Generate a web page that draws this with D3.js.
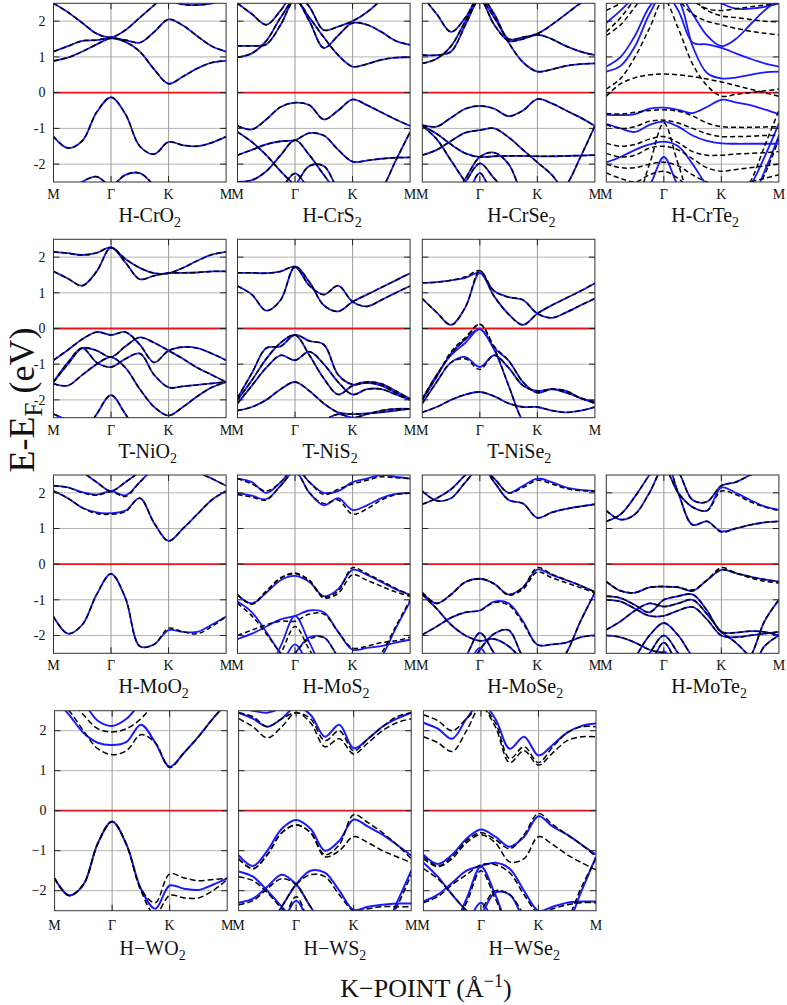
<!DOCTYPE html>
<html><head><meta charset="utf-8">
<script src="https://cdn.jsdelivr.net/npm/d3@7"></script>
<style>body{margin:0;background:#fff}svg{display:block}</style>
</head><body><div id="chart"></div>
<script>
// ---------- data ----------
const kGrid = d3.range(13);            // k-path samples: M(0) .. Γ(4) .. K(8) .. M(12)
const kTickPos = [0, 4, 8, 12];
const kTickLab = ["M", "Γ", "K", "M"];
const eTicks = [-2, -1, 0, 1, 2];
const eTickLab = ["-2", "-1", "0", "1", "2"];
const eTickLabW = ["\u22122", "\u22121", "0", "1", "2"];

const cro2 = [
 [-1.23,-1.55,-1.35,-0.55,-0.13,-0.6,-1.5,-1.72,-1.38,-1.47,-1.5,-1.4,-1.23],
 [0.89,0.98,1.15,1.35,1.52,1.42,1.15,0.65,0.25,0.45,0.68,0.84,0.89],
 [1.15,1.3,1.45,1.47,1.53,1.47,1.4,1.7,2.05,1.88,1.58,1.3,1.15],
 [2.5,2.25,1.95,1.65,1.55,1.75,2.1,2.45,2.8,3,3,3,3],
 [3,3,3,3,3,3,3,2.8,2.6,2.47,2.45,2.5,2.6],
 [-3,-2.9,-2.5,-2.35,-2.6,-2.3,-2.25,-2.6,-3,-3,-3,-3,-3]
];
const crs2 = [
 [-0.93,-1.03,-0.75,-0.4,-0.28,-0.35,-0.75,-0.5,-0.19,-0.35,-0.55,-0.75,-0.93],
 [-1.75,-1.6,-1.45,-1.36,-1.33,-1.13,-1.2,-1.6,-1.93,-1.9,-1.85,-1.82,-1.81],
 [-1.1,-1.38,-1.75,-2.2,-2.6,-3,-3,-3,-3,-3,-2.7,-1.9,-1.1],
 [-2.5,-2.45,-2.2,-1.75,-1.33,-1.75,-2.3,-2.8,-3,-3,-3,-3,-3],
 [-3,-3,-3,-2.7,-2.26,-2.7,-3,-3,-3,-3,-3,-3,-3],
 [-3,-3,-3,-3,-2.6,-2.05,-2.05,-2.7,-3,-3,-3,-3,-3],
 [0.99,1.1,1.45,2.1,2.6,2.1,1.55,1.05,0.73,0.8,0.92,0.98,0.99],
 [1.31,1.31,1.35,1.9,2.6,2.0,1.25,1.6,1.95,1.9,1.7,1.45,1.34],
 [2.5,2.2,1.9,2.3,2.8,2.4,1.75,1.85,2.0,2.25,2.6,3,3]
];
const crse2 = [
 [-0.91,-0.95,-0.7,-0.45,-0.37,-0.45,-0.66,-0.5,-0.18,-0.3,-0.5,-0.7,-0.93],
 [-1.75,-1.6,-1.35,-1.12,-1.05,-1.0,-1.25,-1.6,-1.95,-2.3,-2.8,-3,-3],
 [-0.93,-1.15,-1.45,-1.7,-1.8,-1.78,-1.77,-1.77,-1.78,-1.78,-1.77,-1.76,-1.75],
 [-0.93,-1.3,-1.9,-2.5,-3,-3,-3,-3,-3,-3,-2.6,-1.8,-0.93],
 [-3,-3,-3,-2.5,-1.98,-2.4,-2.8,-3,-3,-3,-3,-3,-3],
 [-3,-3,-3,-2.4,-1.8,-1.68,-2.0,-2.8,-3,-3,-3,-3,-3],
 [-3,-3,-3,-2.9,-2.25,-2.9,-3,-3,-3,-3,-3,-3,-3],
 [0.82,0.95,1.3,2.0,2.6,2.1,1.4,0.85,0.59,0.65,0.75,0.8,0.82],
 [1.05,1.05,1.15,1.9,2.6,1.9,1.45,1.5,1.62,1.5,1.3,1.15,1.05],
 [2.7,2.2,1.7,2.1,2.7,2.2,1.5,1.55,1.65,1.9,2.2,2.5,2.7]
];
const crte2 = [
 [0.59,0.75,1.3,2.2,2.8,2.6,1.3,0.55,0.4,0.42,0.5,0.57,0.59],
 [0.73,1.0,1.6,2.4,2.8,2.3,1.4,1.35,1.25,1.1,0.95,0.82,0.73],
 [3,3,3,3,3,2.8,2.2,1.6,1.3,1.5,1.9,2.3,2.6],
 [3,3,3,3,3,3,3,2.7,2.5,2.35,2.35,2.4,2.5],
 [1.95,2.3,2.7,3,3,3,3,3,3,3,3,3,3],
 [-0.62,-0.63,-0.6,-0.45,-0.42,-0.48,-0.57,-0.4,-0.2,-0.27,-0.35,-0.47,-0.6],
 [-0.87,-1.0,-1.1,-0.9,-0.81,-0.95,-1.2,-1.35,-1.42,-1.43,-1.43,-1.43,-1.43],
 [-1.95,-1.8,-1.6,-1.45,-1.37,-1.5,-2.0,-2.6,-3,-3,-3,-3,-3],
 [-3,-3,-3,-2.6,-1.8,-2.6,-3,-3,-3,-3,-3,-3,-3],
 [-3,-3,-3,-3,-3,-3,-3,-3,-3,-3,-2.6,-1.8,-0.86],
 [-3,-3,-3,-3,-3,-3,-3,-3,-3,-3,-3,-2.2,-1.2]
];
const crte2Dn = [
 [-0.1,0.25,0.42,0.5,0.52,0.5,0.45,0.38,0.3,0.2,0.1,0.0,-0.1],
 [0.1,0.4,1.0,1.8,2.6,1.8,0.8,0.2,-0.1,-0.05,0.0,0.05,0.1],
 [1.7,2.1,2.6,2.9,3,2.9,2.6,2.3,2.15,2.1,2.05,2.0,1.98],
 [1.6,1.9,2.4,2.9,3,2.6,2.2,2.0,1.9,1.8,1.72,1.66,1.62],
 [2.3,2.5,2.8,3,3,3,2.6,2.35,2.3,2.35,2.4,2.45,2.5],
 [-0.58,-0.6,-0.55,-0.5,-0.48,-0.52,-0.65,-0.85,-0.95,-0.97,-0.97,-0.96,-0.95],
 [-0.9,-1.0,-0.95,-0.8,-0.77,-0.85,-1.0,-1.15,-1.23,-1.23,-1.22,-1.2,-1.2],
 [-1.42,-1.5,-1.45,-1.3,-1.23,-1.4,-1.65,-1.75,-1.75,-1.72,-1.7,-1.68,-1.65],
 [-1.7,-1.8,-1.75,-1.55,-1.5,-1.6,-1.85,-2.1,-2.2,-2.15,-2.1,-2.05,-2.0],
 [-2.0,-2.1,-2.1,-2.0,-1.95,-2.05,-2.3,-2.5,-2.6,-2.6,-2.5,-2.4,-2.3],
 [-2.25,-2.4,-2.5,-2.3,-2.2,-2.4,-2.8,-3,-3,-3,-3,-3,-3],
 [-3,-3,-3,-2.0,-0.85,-2.0,-3,-3,-3,-3,-3,-3,-3],
 [-3,-3,-3,-3,-3,-3,-3,-3,-3,-3,-2.5,-1.5,-0.5],
 [-3,-3,-3,-3,-3,-3,-3,-3,-3,-3,-3,-2.3,-1.3]
];
const nio2 = [
 [2.15,2.11,2.06,2.12,2.27,1.95,1.7,1.55,1.55,1.7,1.9,2.07,2.15],
 [1.6,1.4,1.2,1.6,2.27,1.85,1.38,1.48,1.55,1.56,1.57,1.6,1.6],
 [-0.89,-0.6,-0.3,-0.1,-0.18,-0.1,-0.45,-0.95,-0.62,-0.52,-0.55,-0.7,-0.89],
 [-1.5,-1.0,-0.55,-0.62,-0.8,-0.5,-0.25,-0.4,-0.62,-0.85,-1.1,-1.3,-1.5],
 [-1.5,-0.95,-0.55,-0.95,-1.08,-0.85,-0.7,-1.3,-1.65,-1.62,-1.58,-1.54,-1.5],
 [-1.55,-1.6,-1.3,-1.0,-0.8,-1.1,-1.7,-2.2,-2.44,-2.2,-1.9,-1.65,-1.5],
 [-3,-3,-3,-2.4,-1.87,-2.4,-3,-3,-3,-3,-3,-3,-3],
 [-2.4,-2.6,-3,-3,-3,-3,-3,-3,-3,-3,-3,-3,-2.6]
];
const nis2 = [
 [1.56,1.56,1.55,1.6,1.73,1.2,0.95,1.2,0.75,0.62,0.8,1.0,1.19],
 [1.19,0.95,0.5,0.8,1.73,1.3,0.65,0.48,0.75,0.95,1.15,1.35,1.55],
 [-1.95,-1.25,-0.55,-0.5,-0.18,-0.35,-0.45,-1.3,-1.57,-1.52,-1.6,-1.8,-1.97],
 [-2.1,-1.6,-1.1,-0.75,-0.89,-0.65,-1.0,-1.5,-1.85,-1.7,-1.7,-1.85,-2.0],
 [-2.0,-1.45,-0.85,-0.4,-0.18,-0.75,-1.4,-1.85,-1.6,-1.5,-1.55,-1.75,-1.97],
 [-2.3,-2.2,-2.0,-1.7,-1.5,-1.75,-2.1,-2.35,-2.4,-2.38,-2.35,-2.3,-2.25],
 [-3,-3,-3,-3,-3,-3,-2.6,-2.4,-2.5,-2.4,-2.3,-2.25,-2.25]
];
const nise2 = [
 [1.28,1.3,1.35,1.42,1.56,1.05,0.88,0.8,0.42,0.3,0.45,0.65,0.84],
 [0.84,0.45,0.1,0.6,1.56,0.9,0.4,0.1,0.42,0.65,0.85,1.05,1.27],
 [-1.97,-1.3,-0.75,-0.4,-0.02,-0.55,-0.9,-1.5,-1.8,-1.7,-1.8,-1.95,-2.1],
 [-2.1,-1.5,-0.95,-0.8,-1.08,-0.75,-1.1,-1.6,-1.75,-1.7,-1.75,-1.95,-2.05],
 [-2.0,-1.35,-0.7,-0.3,-0.02,-0.6,-1.6,-2.6,-3,-3,-3,-3,-3],
 [-2.35,-2.2,-2.0,-1.85,-1.78,-1.9,-2.1,-2.2,-2.2,-2.3,-2.35,-2.3,-2.2]
];
const nise2Dn = [
 [1.28,1.3,1.35,1.45,1.62,1.05,0.88,0.8,0.42,0.3,0.45,0.65,0.84],
 [0.84,0.45,0.1,0.6,1.62,0.9,0.4,0.1,0.42,0.65,0.85,1.05,1.27],
 [-1.97,-1.3,-0.72,-0.3,0.12,-0.5,-0.9,-1.5,-1.8,-1.7,-1.8,-1.95,-2.1],
 [-2.1,-1.5,-0.95,-0.85,-1.15,-0.75,-1.1,-1.6,-1.75,-1.7,-1.75,-1.95,-2.05],
 [-2.0,-1.35,-0.65,-0.25,0.12,-0.55,-1.6,-2.6,-3,-3,-3,-3,-3],
 [-2.35,-2.2,-2.0,-1.85,-1.78,-1.9,-2.1,-2.2,-2.2,-2.3,-2.35,-2.3,-2.2]
];
const moo2 = [
 [-1.47,-1.95,-1.7,-0.85,-0.27,-0.95,-2.3,-2.25,-1.85,-1.9,-1.9,-1.7,-1.47],
 [2.05,1.85,1.58,1.45,1.43,1.5,1.85,1.15,0.65,1.0,1.4,1.8,2.05],
 [2.2,2.15,2.02,1.95,2.05,1.93,2.3,2.7,3,3,2.6,2.4,2.2],
 [3,3,2.6,2.3,2.05,2.3,2.6,3,3,3,3,3,3]
];
const moo2Dn = [
 [-1.47,-1.95,-1.7,-0.85,-0.27,-0.95,-2.3,-2.25,-1.8,-1.9,-1.95,-1.75,-1.47],
 [2.05,1.85,1.58,1.42,1.4,1.47,1.85,1.15,0.65,1.0,1.4,1.8,2.05],
 [2.2,2.15,2.0,1.93,2.03,1.9,2.3,2.7,3,3,2.6,2.4,2.2],
 [3,3,2.6,2.3,2.05,2.3,2.6,3,3,3,3,3,3]
];
const mos2 = [
 [-0.86,-1.1,-0.8,-0.45,-0.33,-0.5,-0.9,-0.7,-0.16,-0.3,-0.5,-0.7,-0.86],
 [-1.05,-1.35,-1.9,-2.5,-2.9,-3,-3,-3,-3,-3,-2.6,-1.8,-1.05],
 [-2.1,-1.95,-1.75,-1.55,-1.45,-1.3,-1.35,-1.9,-2.4,-2.35,-2.3,-2.2,-2.12],
 [-3,-3,-3,-2.3,-1.45,-2.2,-2.9,-3,-3,-3,-3,-3,-3],
 [-3,-3,-3,-3,-2.5,-2.05,-2.05,-2.6,-3,-3,-3,-3,-3],
 [-3,-3,-3,-2.8,-2.25,-2.8,-3,-3,-3,-3,-3,-3,-3],
 [1.99,1.92,1.82,2.2,2.6,2.0,1.65,1.85,1.52,1.65,1.85,1.97,1.99],
 [2.4,2.3,2.0,2.3,2.7,2.3,2.0,2.05,2.3,2.4,2.5,2.45,2.4]
];
const mos2Dn = [
 [-0.86,-1.12,-0.75,-0.38,-0.25,-0.45,-0.92,-0.75,-0.1,-0.27,-0.47,-0.68,-0.86],
 [-0.86,-1.12,-0.78,-0.4,-0.27,-0.48,-0.95,-0.82,-0.3,-0.45,-0.62,-0.78,-0.9],
 [-1.1,-1.45,-1.95,-2.5,-2.9,-3,-3,-3,-3,-3,-2.5,-1.75,-1.0],
 [-2.0,-1.85,-1.7,-1.6,-1.6,-1.4,-1.4,-1.9,-2.35,-2.3,-2.2,-2.15,-2.05],
 [-3,-3,-3,-2.5,-1.75,-2.4,-3,-3,-3,-3,-3,-3,-3],
 [-3,-3,-3,-3,-2.5,-2.1,-2.05,-2.6,-3,-3,-3,-3,-3],
 [1.95,1.88,1.8,2.2,2.6,2.0,1.7,1.8,1.4,1.55,1.8,1.95,1.99],
 [2.4,2.25,2.05,2.3,2.7,2.3,1.95,2.1,2.25,2.35,2.45,2.42,2.4]
];
const mose2 = [
 [-0.8,-1.1,-0.85,-0.5,-0.41,-0.55,-0.85,-0.65,-0.15,-0.3,-0.45,-0.6,-0.78],
 [-0.85,-1.25,-1.7,-2.0,-2.15,-2.1,-2.3,-2.7,-3,-3,-3,-3,-3],
 [-1.98,-1.75,-1.5,-1.35,-1.3,-1.05,-1.1,-1.6,-2.26,-2.25,-2.2,-2.05,-2.0],
 [-3,-3,-3,-3,-3,-3,-3,-3,-3,-3,-2.5,-1.6,-0.8],
 [-3,-3,-3,-2.6,-1.93,-2.5,-3,-3,-3,-3,-3,-3,-3],
 [-3,-3,-3,-3,-2.4,-1.95,-1.85,-2.6,-3,-3,-3,-3,-3],
 [-3,-3,-3,-2.9,-2.35,-2.9,-3,-3,-3,-3,-3,-3,-3],
 [1.68,1.85,2.1,2.5,2.8,2.3,1.8,1.7,1.3,1.45,1.55,1.62,1.68],
 [2.05,1.78,1.85,2.3,2.7,2.4,2.0,2.2,2.4,2.3,2.15,2.08,2.05]
];
const mose2Dn = [
 [-0.8,-1.1,-0.85,-0.5,-0.41,-0.55,-0.85,-0.65,-0.1,-0.28,-0.44,-0.6,-0.78],
 [-0.8,-1.1,-0.85,-0.5,-0.41,-0.55,-0.87,-0.7,-0.22,-0.38,-0.52,-0.66,-0.8],
 [-0.85,-1.25,-1.7,-2.0,-2.15,-2.1,-2.3,-2.7,-3,-3,-3,-3,-3],
 [-1.98,-1.75,-1.5,-1.35,-1.3,-1.08,-1.15,-1.65,-2.26,-2.25,-2.2,-2.05,-2.0],
 [-3,-3,-3,-3,-3,-3,-3,-3,-3,-3,-2.5,-1.6,-0.8],
 [-3,-3,-3,-2.6,-1.93,-2.5,-3,-3,-3,-3,-3,-3,-3],
 [-3,-3,-3,-3,-2.4,-1.95,-1.85,-2.6,-3,-3,-3,-3,-3],
 [1.68,1.85,2.1,2.5,2.8,2.3,1.8,1.7,1.3,1.45,1.55,1.62,1.68],
 [2.05,1.78,1.85,2.3,2.7,2.4,2.0,2.15,2.35,2.25,2.12,2.06,2.05]
];
const mote2 = [
 [-0.49,-0.75,-0.8,-0.65,-0.63,-0.65,-0.75,-0.45,-0.16,-0.25,-0.35,-0.43,-0.49],
 [-0.9,-0.95,-1.15,-1.35,-1.0,-0.9,-0.85,-1.3,-1.9,-1.92,-1.88,-1.9,-2.0],
 [-1.84,-1.6,-1.3,-1.1,-1.19,-1.1,-1.0,-1.4,-1.9,-2.2,-2.6,-3,-3],
 [-3,-3,-2.6,-2.0,-1.65,-2.0,-2.6,-3,-3,-3,-3,-3,-3],
 [-3,-3,-3,-2.5,-2.0,-2.5,-3,-3,-3,-3,-3,-3,-3],
 [-3,-3,-3,-2.8,-2.2,-2.8,-3,-3,-3,-3,-3,-3,-3],
 [-3,-3,-3,-3,-3,-3,-3,-3,-3,-3,-2.6,-1.6,-1.0],
 [-2.0,-2.05,-2.2,-2.4,-2.5,-2.6,-3,-3,-3,-3,-3,-2.3,-2.0],
 [-1.0,-1.05,-1.25,-1.45,-1.45,-1.3,-1.2,-1.55,-2.0,-2.05,-2.0,-1.95,-1.9],
 [-3,-3,-3,-2.9,-2.45,-2.9,-3,-3,-3,-3,-3,-3,-3],
 [1.2,1.4,1.9,2.5,3,2.0,1.1,1.2,0.92,1.0,1.1,1.17,1.2],
 [1.5,1.25,1.4,2.0,2.7,2.0,1.6,1.5,2.15,2.0,1.8,1.62,1.52],
 [3,3,3,3,3,2.6,1.8,1.75,2.2,2.3,2.5,2.7,2.9]
];
const mote2Dn = [
 [-0.49,-0.75,-0.8,-0.65,-0.63,-0.65,-0.72,-0.45,-0.1,-0.25,-0.38,-0.48,-0.53],
 [-0.49,-0.75,-0.8,-0.65,-0.63,-0.65,-0.75,-0.45,-0.16,-0.25,-0.35,-0.43,-0.49],
 [-0.9,-0.95,-1.15,-1.35,-1.0,-0.9,-0.85,-1.3,-1.9,-1.92,-1.88,-1.9,-2.0],
 [-1.84,-1.6,-1.3,-1.1,-1.19,-1.1,-1.0,-1.4,-1.9,-2.2,-2.6,-3,-3],
 [-3,-3,-2.6,-2.0,-1.65,-2.0,-2.6,-3,-3,-3,-3,-3,-3],
 [-3,-3,-3,-2.5,-2.0,-2.5,-3,-3,-3,-3,-3,-3,-3],
 [-3,-3,-3,-2.8,-2.2,-2.8,-3,-3,-3,-3,-3,-3,-3],
 [-3,-3,-3,-3,-3,-3,-3,-3,-3,-3,-2.6,-1.6,-1.0],
 [-2.0,-2.05,-2.2,-2.4,-2.5,-2.6,-3,-3,-3,-3,-3,-2.3,-2.0],
 [-1.0,-1.05,-1.25,-1.45,-1.45,-1.3,-1.2,-1.55,-2.0,-2.05,-2.0,-1.95,-1.9],
 [1.2,1.4,1.9,2.5,3,2.0,1.1,1.2,0.9,1.0,1.1,1.17,1.2],
 [1.5,1.25,1.4,2.0,2.7,2.0,1.6,1.5,2.05,1.95,1.75,1.6,1.5],
 [3,3,3,3,3,2.6,1.8,1.75,2.2,2.3,2.5,2.7,2.9]
];
const wo2 = [
 [-1.69,-2.12,-1.85,-0.82,-0.27,-0.85,-1.95,-2.45,-1.87,-1.95,-1.98,-1.85,-1.69],
 [2.8,2.4,1.95,1.7,1.64,1.72,2.15,1.7,1.1,1.45,1.85,2.3,2.7],
 [3,3,2.7,2.25,2.12,2.3,2.7,3,3,3,3,3,3]
];
const wo2Dn = [
 [-1.69,-2.12,-1.85,-0.82,-0.27,-0.85,-1.95,-2.3,-1.58,-1.68,-1.75,-1.72,-1.69],
 [-1.69,-2.12,-1.85,-0.82,-0.27,-0.85,-2.0,-2.6,-2.12,-2.18,-2.18,-2.0,-1.72],
 [2.8,2.5,2.0,1.55,1.4,1.5,1.9,1.7,1.08,1.45,1.85,2.3,2.7],
 [3,2.8,2.4,2.05,1.97,2.05,2.3,2.7,3,3,3,3,3]
];
const ws2 = [
 [-1.11,-1.38,-1.0,-0.45,-0.23,-0.45,-1.0,-0.75,-0.22,-0.4,-0.6,-0.85,-1.12],
 [-1.52,-1.65,-2.0,-2.4,-2.8,-3,-3,-3,-3,-3,-3,-2.3,-1.5],
 [-2.3,-2.2,-1.9,-1.6,-1.84,-2.4,-2.9,-3,-3,-3,-3,-3,-3],
 [-3,-3,-2.9,-2.4,-1.84,-1.5,-1.55,-2.0,-2.48,-2.4,-2.35,-2.32,-2.32],
 [-3,-3,-3,-2.8,-2.25,-2.8,-3,-3,-3,-3,-3,-3,-3],
 [2.45,2.3,2.1,2.3,2.6,2.4,1.85,2.15,1.56,1.8,2.1,2.3,2.45],
 [2.6,2.5,2.45,2.6,3,3,3,3,3,3,3,3,3]
];
const ws2Dn = [
 [-1.2,-1.45,-1.1,-0.55,-0.36,-0.55,-1.1,-0.85,-0.1,-0.3,-0.55,-0.85,-1.2],
 [-1.2,-1.45,-1.1,-0.55,-0.36,-0.55,-1.15,-1.0,-0.65,-0.8,-1.0,-1.15,-1.3],
 [-1.65,-1.75,-2.05,-2.45,-2.8,-3,-3,-3,-3,-3,-3,-2.4,-1.6],
 [-2.35,-2.25,-1.95,-1.7,-1.85,-2.4,-2.9,-3,-3,-3,-3,-3,-3],
 [-3,-3,-2.9,-2.4,-1.85,-1.6,-1.65,-2.1,-2.5,-2.45,-2.4,-2.4,-2.4],
 [-3,-3,-3,-2.8,-2.15,-2.8,-3,-3,-3,-3,-3,-3,-3],
 [2.3,2.1,1.82,2.1,2.45,2.2,1.6,1.8,1.42,1.7,2.0,2.2,2.3],
 [2.45,2.35,2.1,2.3,2.45,2.3,1.75,2.0,1.5,1.8,2.1,2.35,2.45]
];
const wse2 = [
 [-1.1,-1.33,-1.1,-0.7,-0.47,-0.65,-0.9,-0.65,-0.14,-0.4,-0.6,-0.85,-1.1],
 [-1.3,-1.65,-2.1,-2.5,-2.8,-3,-3,-3,-3,-3,-2.8,-2.0,-1.15],
 [-2.27,-2.1,-1.8,-1.5,-1.38,-1.3,-1.45,-2.0,-2.5,-2.4,-2.3,-2.27,-2.27],
 [-3,-3,-2.9,-2.2,-1.4,-2.1,-2.9,-3,-3,-3,-3,-3,-3],
 [-3,-3,-3,-2.8,-2.3,-2.8,-3,-3,-3,-3,-3,-3,-3],
 [-3,-3,-3,-3,-2.6,-2.05,-2.1,-2.7,-3,-3,-3,-3,-3],
 [2.2,2.05,1.8,2.3,2.7,2.3,1.55,1.85,1.38,1.65,1.95,2.12,2.18]
];
const wse2Dn = [
 [-1.2,-1.4,-1.2,-0.8,-0.6,-0.8,-1.28,-1.2,-0.65,-0.85,-1.1,-1.3,-1.48],
 [-1.15,-1.38,-1.15,-0.75,-0.55,-0.72,-0.95,-0.6,-0.07,-0.35,-0.6,-0.85,-1.15],
 [-1.45,-1.7,-2.1,-2.5,-2.8,-3,-3,-3,-3,-3,-2.7,-1.9,-1.2],
 [-2.3,-2.15,-1.85,-1.6,-1.35,-1.35,-1.55,-2.1,-2.55,-2.45,-2.35,-2.3,-2.3],
 [-3,-3,-2.9,-2.3,-1.5,-2.2,-2.9,-3,-3,-3,-3,-3,-3],
 [-3,-3,-3,-3,-2.5,-2.0,-2.1,-2.6,-3,-3,-3,-3,-3],
 [1.85,1.7,1.48,2.0,2.6,2.1,1.2,1.5,1.14,1.45,1.75,1.85,1.85],
 [2.4,2.25,2.0,2.3,2.6,2.2,1.3,1.6,1.2,1.6,1.95,2.1,2.1]
];

const panelNames = [
 ["H-CrO","2"],["H-CrS","2"],["H-CrSe","2"],["H-CrTe","2"],
 ["T-NiO","2"],["T-NiS","2"],["T-NiSe","2"],
 ["H-MoO","2"],["H-MoS","2"],["H-MoSe","2"],["H-MoTe","2"],
 ["H\u2212WO","2"],["H\u2212WS","2"],["H\u2212WSe","2"]
];
const solidSets = [cro2, crs2, crse2, crte2, nio2, nis2, nise2, moo2, mos2, mose2, mote2, wo2, ws2, wse2];
const dashSets  = [cro2, crs2, crse2, crte2Dn, nio2, nis2, nise2Dn, moo2Dn, mos2Dn, mose2Dn, mote2Dn, wo2Dn, ws2Dn, wse2Dn];
const panelRow = [0,0,0,0, 1,1,1, 2,2,2,2, 3,3,3];
const panelCol = [0,1,2,3, 0,1,2, 0,1,2,3, 0,1,2];

// ---------- layout ----------
const W = 787, H = 1005;
const colX = [53.5, 237.5, 422.3, 606.3];
const panelW = 172.6;
const rowY = [3.3, 239.3, 475, 710.7];
const rowH = [178.7, 178.4, 178.3, 200];
const serif = "'Liberation Serif','DejaVu Serif',serif";

const svg = d3.select("#chart").append("svg").attr("width", W).attr("height", H)
  .attr("font-family", serif);
svg.append("rect").attr("width", W).attr("height", H).attr("fill", "#fff");
const defs = svg.append("defs");

panelNames.forEach((nm, i) => {
  const r = panelRow[i], c = panelCol[i];
  const x0 = colX[c] + (r === 3 ? 1.1 : 0);
  const y0 = rowY[r], h = rowH[r], w = panelW;
  const xs = d3.scaleLinear().domain([0, 12]).range([x0, x0 + w]);
  const ys = d3.scaleLinear().domain([-2.5, 2.5]).range([y0 + h, y0]);
  const g = svg.append("g");
  const cid = "clip" + i;
  defs.append("clipPath").attr("id", cid).append("rect")
    .attr("x", x0).attr("y", y0).attr("width", w).attr("height", h);

  // grid
  g.selectAll(".gh").data(eTicks.filter(e => e !== 0)).enter().append("line")
    .attr("x1", x0).attr("x2", x0 + w).attr("y1", d => ys(d)).attr("y2", d => ys(d))
    .attr("stroke", "#b4b4b4").attr("stroke-width", 1);
  g.selectAll(".gv").data([4, 8]).enter().append("line")
    .attr("x1", d => xs(d)).attr("x2", d => xs(d)).attr("y1", y0).attr("y2", y0 + h)
    .attr("stroke", "#9a9a9a").attr("stroke-width", 1);

  // zero line
  g.append("line").attr("x1", x0).attr("x2", x0 + w).attr("y1", ys(0)).attr("y2", ys(0))
    .attr("stroke", "#e8141a").attr("stroke-width", 1.8);

  const line = d3.line().x((d, j) => xs(kGrid[j])).y(d => ys(d)).curve(d3.curveCatmullRom.alpha(0.5));
  const bg = g.append("g").attr("clip-path", `url(#${cid})`);
  const wide = r === 3;
  bg.selectAll(".s").data(solidSets[i]).enter().append("path")
    .attr("d", line).attr("fill", "none").attr("stroke", "#1a1aff")
    .attr("stroke-width", wide ? 2.0 : 1.8);
  bg.selectAll(".d").data(dashSets[i]).enter().append("path")
    .attr("d", line).attr("fill", "none").attr("stroke", "#000")
    .attr("stroke-width", 1.5).attr("stroke-dasharray", wide ? "6,3" : "5,3");

  // frame
  g.append("rect").attr("x", x0).attr("y", y0).attr("width", w).attr("height", h)
    .attr("fill", "none").attr("stroke", "#333").attr("stroke-width", 1);
  // ticks
  eTicks.forEach(e => {
    g.append("line").attr("x1", x0).attr("x2", x0 + 6).attr("y1", ys(e)).attr("y2", ys(e)).attr("stroke", "#222");
    g.append("line").attr("x1", x0 + w - 6).attr("x2", x0 + w).attr("y1", ys(e)).attr("y2", ys(e)).attr("stroke", "#222");
  });
  [4, 8].forEach(k => {
    g.append("line").attr("x1", xs(k)).attr("x2", xs(k)).attr("y1", y0).attr("y2", y0 + 6).attr("stroke", "#222");
    g.append("line").attr("x1", xs(k)).attr("x2", xs(k)).attr("y1", y0 + h - 6).attr("y2", y0 + h).attr("stroke", "#222");
  });

  // k labels
  g.selectAll(".kl").data(kTickPos).enter().append("text")
    .attr("x", d => xs(d)).attr("y", y0 + h + (r === 3 ? 19 : 17))
    .attr("text-anchor", "middle").attr("font-size", 14).attr("fill", "#111")
    .text((d, j) => kTickLab[j]);

  // y tick labels
  if (c === 0) {
    const labs = r === 3 ? eTickLabW : eTickLab;
    g.selectAll(".yl").data(eTicks).enter().append("text")
      .attr("x", x0 - 8).attr("y", d => ys(d)).attr("dy", "0.34em")
      .attr("text-anchor", "end").attr("font-size", 14).attr("fill", "#111")
      .text((d, j) => labs[j]);
  }

  // title
  const t = g.append("text").attr("x", x0 + 65).attr("y", y0 + h + (r === 3 ? 44 : 40))
    .attr("font-size", 20).attr("fill", "#111");
  t.append("tspan").text(nm[0]);
  t.append("tspan").attr("font-size", 14).attr("dy", 5).text(nm[1]);
});

// axis titles
const yl = svg.append("text").attr("transform", "translate(34,400) rotate(-90)")
  .attr("text-anchor", "middle").attr("font-size", 36).attr("fill", "#111");
yl.append("tspan").text("E-E");
yl.append("tspan").attr("font-size", 25).attr("dy", 8).text("F");
yl.append("tspan").attr("dy", -8).text(" (eV)");

const xl = svg.append("text").attr("x", 426).attr("y", 997)
  .attr("text-anchor", "middle").attr("font-size", 26).attr("fill", "#111");
xl.append("tspan").text("K\u2212POINT (Å");
xl.append("tspan").attr("font-size", 18).attr("dy", -10).text("\u22121");
xl.append("tspan").attr("dy", 10).text(")");
</script>
</body></html>
